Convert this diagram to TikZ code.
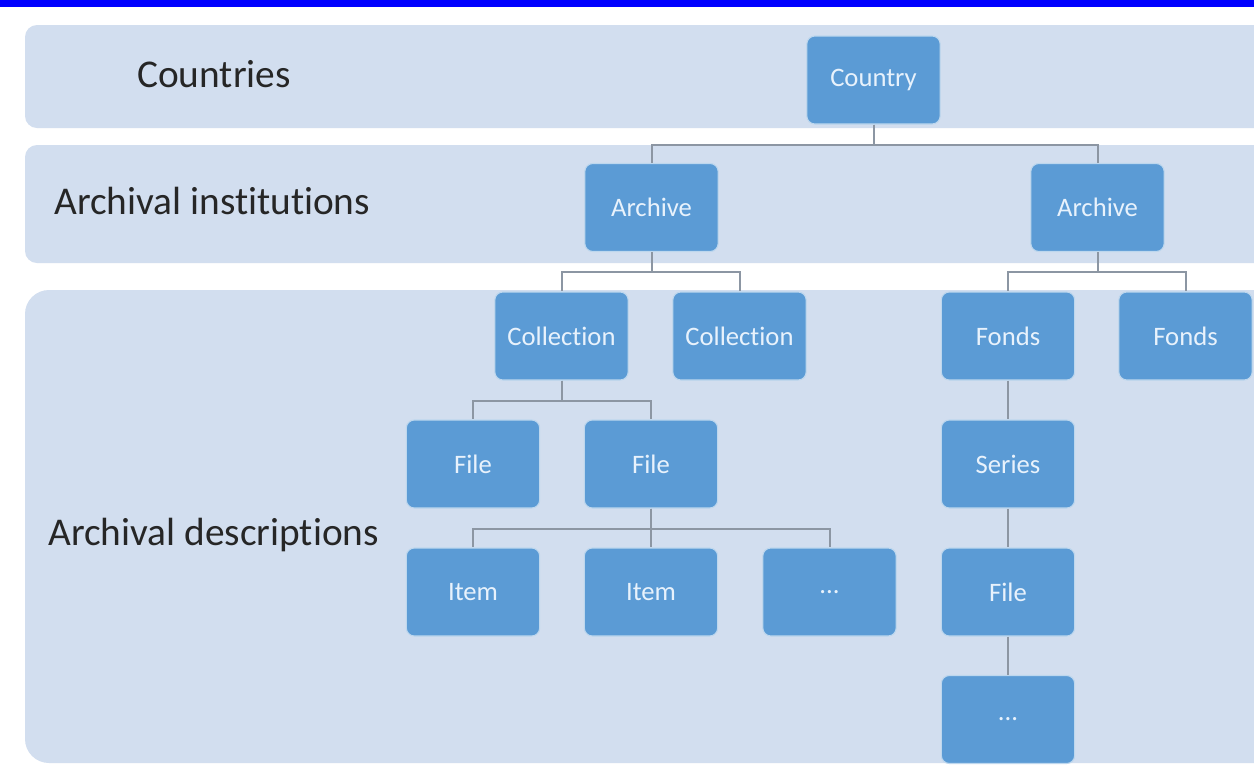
\documentclass[tikz,border=0pt]{standalone}
\usepackage{fontspec}
\setmainfont{Carlito}[Ligatures=NoCommon]
\definecolor{bandfill}{RGB}{210,222,239}
\definecolor{boxfill}{RGB}{91,155,213}
\definecolor{boxline}{RGB}{189,215,238}
\definecolor{boxtext}{RGB}{232,242,252}
\definecolor{linkgray}{RGB}{140,150,163}
\definecolor{topbar}{RGB}{0,0,255}
\tikzset{
    unit/.style={draw=boxline, line width=0.8pt, fill=boxfill, rounded corners=6pt,
        minimum width=100pt, minimum height=66pt, inner sep=0pt,
        text=boxtext, font=\fontsize{20}{24}\selectfont},
    band/.style={fill=bandfill, draw=none},
    bandlabel/.style={anchor=base west, inner sep=0pt, text=black!85,
        font=\fontsize{29.5}{35}\selectfont},
    link/.style={draw=linkgray, line width=1.5pt},
}
\begin{document}
\begin{tikzpicture}[x=0.75pt,y=0.75pt,yscale=-1,xscale=1]
    \useasboundingbox (0,0) rectangle (1254,765);
    \clip (0,0) rectangle (1254,765);
    \fill [white] (0,0) rectangle (1254,765);
    % top bar
    \fill [topbar] (0,0) rectangle (1254,7);
    % bands
    \path [band, rounded corners=9pt] (25,25) rectangle (1290,128);
    \path [band, rounded corners=9pt] (25,145) rectangle (1290,263);
    \path [band, rounded corners=18pt] (25,290) rectangle (1290,763);

    % band labels
    \node [bandlabel] (lblcountries) at (137,87) {Countries};
    \node [bandlabel] (lblinstitutions) at (54,214) {Archival institutions};
    \node [bandlabel] (lbldescriptions) at (48,545) {Archival descriptions};

    % units
    \node [unit] (country) at (873.5,80) {Country};
    \node [unit] (archiveA) at (651.5,207.5) {Archive};
    \node [unit] (archiveB) at (1097.5,207.5) {Archive};
    \node [unit] (collectionA) at (561.5,336) {Collection};
    \node [unit] (collectionB) at (739.5,336) {Collection};
    \node [unit] (fondsA) at (1008,336) {Fonds};
    \node [unit] (fondsB) at (1185.5,336) {Fonds};
    \node [unit] (fileA) at (473,464) {File};
    \node [unit] (fileB) at (651,464) {File};
    \node [unit] (series) at (1008,464) {Series};
    \node [unit] (itemA) at (473,592) {Item};
    \node [unit] (itemB) at (651,592) {Item};
    \node [unit] (moreA) at (829.5,592) {...};
    \node [unit] (fileC) at (1008,592) {File};
    \node [unit] (moreB) at (1008,719.5) {...};

    % links
    \draw [link] (country.south) -- ++(0,20) -| (archiveA.north);
    \draw [link] (country.south) -- ++(0,20) -| (archiveB.north);
    \draw [link] (archiveA.south) -- ++(0,20) -| (collectionA.north);
    \draw [link] (archiveA.south) -- ++(0,20) -| (collectionB.north);
    \draw [link] (archiveB.south) -- ++(0,20) -| (fondsA.north);
    \draw [link] (archiveB.south) -- ++(0,20) -| (fondsB.north);
    \draw [link] (collectionA.south) -- ++(0,20) -| (fileA.north);
    \draw [link] (collectionA.south) -- ++(0,20) -| (fileB.north);
    \draw [link] (fileB.south) -- ++(0,20) -| (itemA.north);
    \draw [link] (fileB.south) -- (itemB.north);
    \draw [link] (fileB.south) -- ++(0,20) -| (moreA.north);
    \draw [link] (fondsA) -- (series);
    \draw [link] (series) -- (fileC);
    \draw [link] (fileC) -- (moreB);
\end{tikzpicture}
\end{document}
